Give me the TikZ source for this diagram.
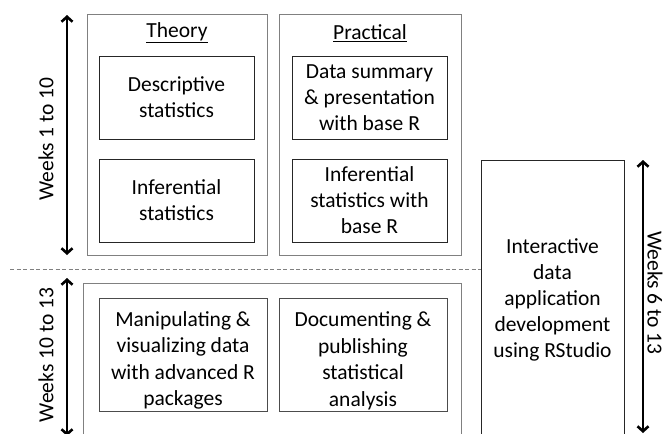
\documentclass[tikz,border=0pt]{standalone}
\usepackage{fontspec}
\setmainfont{Carlito}
\usepackage{tikz}
\usetikzlibrary{arrows.meta}
\definecolor{framegray}{HTML}{808080}

\begin{document}
\begin{tikzpicture}[x=1pt, y=-1pt, every node/.style={align=center, inner sep=0pt, font=\fontsize{21.5}{26}\selectfont},
    frame/.style={draw=framegray, line width=1pt},
    topic/.style={draw=black!85, line width=1pt, minimum width=155pt, minimum height=83pt},
    wide topic/.style={topic, draw=black!70, minimum width=168pt, minimum height=113pt, font=\fontsize{21.5}{26.5}\selectfont},
    weeks/.style={{Straight Barb[length=5pt,width=11pt]}-{Straight Barb[length=5pt,width=11pt]}, line width=2.6pt}]
    \useasboundingbox (0,0) rectangle (665,434);
    \clip (0,0) rectangle (665,434);
    % frames of the three blocks
    \node[frame, minimum width=180pt, minimum height=241pt] (theory) at (177,134.5) {};
    \node[frame, minimum width=182pt, minimum height=241pt] (practical) at (370,134.5) {};
    \node[frame, minimum width=378pt, minimum height=165pt] (advanced) at (272,365.5) {};
    \node at (177,33) {\underline{Theory}};
    \node at (370,33) {\underline{Practical}};
    % topics, weeks 1 to 10
    \node[topic] (desc) at (176.5,97.5) {Descriptive\\statistics};
    \node[topic] (infer) at (176.5,200.5) {Inferential\\statistics};
    \node[topic] (summary) at (369.5,97.5) {Data summary\\\& presentation\\with base R};
    \node[topic] (inferR) at (369.5,200.5) {Inferential\\statistics with\\base R};
    % topics, weeks 10 to 13
    \node[wide topic] (manip) at (183,354.5) {\rule{0pt}{27pt}Manipulating \&\\visualizing data\\with advanced R\\packages};
    \node[wide topic] (docu) at (363,354.5) {\rule{0pt}{27pt}Documenting \&\\publishing\\statistical\\analysis};
    \node[topic, minimum width=143pt, minimum height=280pt] (shiny) at (552.5,300) {Interactive\\data\\application\\development\\using RStudio};
    % time spans
    \coordinate (w1) at (67,15);   \coordinate (w10) at (67,255);
    \coordinate (v10) at (67,278); \coordinate (v13) at (67,436);
    \coordinate (u6) at (643,160); \coordinate (u13) at (643,433);
    \draw[weeks] (w1) -- (w10);
    \draw[weeks] (v10) -- (v13);
    \draw[weeks] (u6) -- (u13);
    \node[rotate=90] at (46,139) {Weeks 1 to 10};
    \node[rotate=90] at (46,355) {Weeks 10 to 13};
    \node[rotate=-90] at (655,293) {Weeks 6 to 13};
    \coordinate (split) at (10,269);
    \draw[framegray, line width=1pt, dash pattern=on 4pt off 2.5pt] (split) -- (split -| shiny.west);
\end{tikzpicture}
\end{document}
